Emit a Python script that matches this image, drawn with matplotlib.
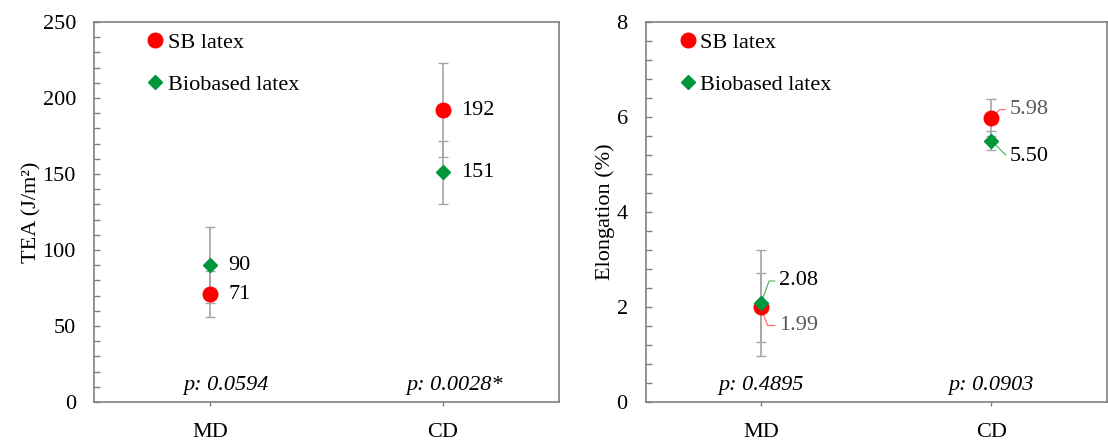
import numpy as np
import matplotlib.pyplot as plt
from matplotlib.ticker import MultipleLocator

plt.rcParams['font.family'] = ['Liberation Serif', 'DejaVu Serif']
plt.rcParams['font.size'] = 16

categories = ['MD', 'CD']
series = ['SB latex', 'Biobased latex']

tea_sb = [71, 192]
tea_sb_err = [15, 31]
tea_bio = [90, 151]
tea_bio_err = [25, 21]
tea_p = ['p: 0.0594', 'p: 0.0028*']

elong_sb = [1.99, 5.98]
elong_sb_err = [0.73, 0.39]
elong_bio = [2.08, 5.50]
elong_bio_err = [1.12, 0.20]
elong_p = ['p: 0.4895', 'p: 0.0903']

red = '#ff0000'
green = '#00963c'
errc = '#a6a6a6'
spine = '#7f7f7f'

fig = plt.figure(figsize=(11.08, 4.45), dpi=100)
ax1 = fig.add_axes([0.0848, 0.0966, 0.4197, 0.854])
ax2 = fig.add_axes([0.5828, 0.0966, 0.416, 0.854])

x = np.arange(1, len(categories) + 1)


def style(ax, ymax, major, minor, ylabel):
    ax.set_xlim(0.5, 2.5)
    ax.set_ylim(0, ymax)
    ax.set_xticks(x)
    ax.set_xticklabels(categories)
    ax.yaxis.set_major_locator(MultipleLocator(major))
    ax.yaxis.set_minor_locator(MultipleLocator(minor))
    for s in ax.spines.values():
        s.set_color(spine)
        s.set_linewidth(1.2)
    ax.tick_params(axis='y', which='both', direction='in', length=4,
                   color=spine, width=1.0, pad=13)
    ax.tick_params(axis='x', direction='out', length=3, color=spine,
                   width=1.0, pad=12)
    ax.set_ylabel(ylabel, labelpad=1)


def draw(ax, sb, sb_err, bio, bio_err):
    ax.errorbar(x, sb, yerr=sb_err, fmt='none', ecolor=errc, elinewidth=1.2,
                capsize=3.5, capthick=1.0, zorder=2)
    ax.errorbar(x, bio, yerr=bio_err, fmt='none', ecolor=errc, elinewidth=1.2,
                capsize=3.5, capthick=1.0, zorder=2)
    ax.plot(x, sb, 'o', color=red, markersize=10.5, linestyle='none',
            label=series[0], zorder=4)
    ax.plot(x, bio, 'D', color=green, markersize=7, linestyle='none',
            label=series[1], zorder=5)


# left: TEA
draw(ax1, tea_sb, tea_sb_err, tea_bio, tea_bio_err)
style(ax1, 250, 50, 10, 'TEA (J/m²)')
for xi, v in zip(x, tea_sb):
    ax1.annotate(f'{v}', (xi, v), xytext=(13, 0), textcoords='offset points',
                 va='center', ha='left')
for xi, v in zip(x, tea_bio):
    ax1.annotate(f'{v}', (xi, v), xytext=(13, 0), textcoords='offset points',
                 va='center', ha='left')
for xi, dx, t in zip(x, [0.07, 0.05], tea_p):
    ax1.text(xi + dx, 7.9, t, ha='center', va='baseline', style='italic')

# right: elongation
draw(ax2, elong_sb, elong_sb_err, elong_bio, elong_bio_err)
style(ax2, 8, 2, 0.4, 'Elongation (%)')

lab_offsets_sb = [(13, -13), (13, 6)]
lab_offsets_bio = [(13, 16), (13, -11)]
angles_sb = [-70, 45]
angles_bio = [70, -45]
lab_colors_sb = ['#595959', '#595959']
lab_colors_bio = ['black', 'black']
for i, xi in enumerate(x):
    ax2.annotate(f'{elong_sb[i]:.2f}', (xi, elong_sb[i]), xytext=lab_offsets_sb[i],
                 textcoords='offset points', va='center', ha='left',
                 color=lab_colors_sb[i], zorder=1,
                 arrowprops=dict(arrowstyle='-', color='#ff7070', lw=0.9,
                                 shrinkA=1, shrinkB=0, relpos=(0, 0.5),
                                 connectionstyle=f'angle,angleA=0,angleB={angles_sb[i]},rad=0'))
    ax2.annotate(f'{elong_bio[i]:.2f}', (xi, elong_bio[i]), xytext=lab_offsets_bio[i],
                 textcoords='offset points', va='center', ha='left',
                 color=lab_colors_bio[i], zorder=1,
                 arrowprops=dict(arrowstyle='-', color='#5cb85c', lw=0.9,
                                 shrinkA=1, shrinkB=0, relpos=(0, 0.5),
                                 connectionstyle=f'angle,angleA=0,angleB={angles_bio[i]},rad=0'))
for xi, t in zip(x, elong_p):
    ax2.text(xi, 0.25, t, ha='center', va='baseline', style='italic')

for ax, bx in [(ax1, 0.108), (ax2, 0.068)]:
    ax.legend(loc='upper left', bbox_to_anchor=(bx, 0.972), frameon=False,
              numpoints=1, handlelength=1.0, handletextpad=0.05,
              labelspacing=0.95, borderpad=0, borderaxespad=0)

fig.savefig('out.png', dpi=100)
